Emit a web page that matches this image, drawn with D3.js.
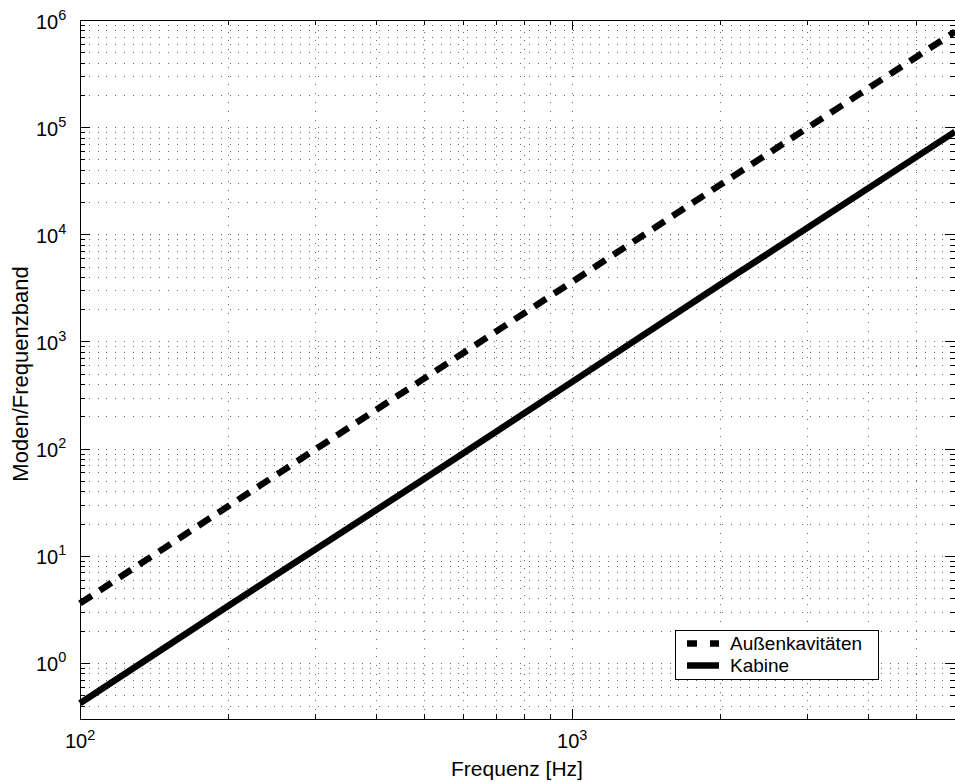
<!DOCTYPE html>
<html><head><meta charset="utf-8">
<script src="https://cdn.jsdelivr.net/npm/d3@7"></script>
<style>body{margin:0;background:#fff}svg{display:block}text{font-family:"Liberation Sans",Arial,sans-serif;fill:#000}</style>
</head><body><svg id="c" width="955" height="782"></svg>
<script>
const freqs = [100, 200, 500, 1000, 2000, 5000, 6000];
const kabine = [0.42, 3.4, 52, 420, 3400, 52500, 90700];
const aussen = [3.6, 29, 450, 3600, 29000, 450000, 778000];
const seriesNames = ["Außenkavitäten", "Kabine"];
const xTickExps = [2, 3];
const yTickExps = [0, 1, 2, 3, 4, 5, 6];
const xLabel = "Frequenz [Hz]";
const yLabel = "Moden/Frequenzband";

const svg = d3.select("#c");
const L = 80, R = 955, T = 20, B = 719;
const x = d3.scaleLog().domain([100, 6000]).range([L, R]);
const y = d3.scaleLog().domain([0.3, 1e6]).range([B, T]);

function gridVals(scale) {
  const [a, b] = scale.domain();
  const out = [];
  for (let e = Math.floor(Math.log10(a)); e <= Math.ceil(Math.log10(b)); e++) {
    for (let k = 1; k <= 9; k++) {
      const v = k * Math.pow(10, e);
      if (v >= a * 0.9999 && v <= b * 1.0001) out.push(v);
    }
  }
  return out;
}
const xg = gridVals(x), yg = gridVals(y);
const isMajor = v => Math.abs(Math.log10(v) - Math.round(Math.log10(v))) < 1e-9;
const px = v => Math.round(v) + 0.5;

const grid = svg.append("g").attr("stroke", "#6a6a6a").attr("stroke-width", 1)
  .attr("stroke-dasharray", "1,7.8").attr("shape-rendering", "crispEdges");
grid.selectAll(".gx").data(xg.filter(v => x(v) > L + 1 && x(v) < R - 1)).join("line")
  .attr("x1", d => px(x(d))).attr("x2", d => px(x(d))).attr("y1", B).attr("y2", T);
grid.selectAll(".gy").data(yg.filter(v => y(v) < B - 1 && y(v) > T + 1)).join("line")
  .attr("y1", d => px(y(d))).attr("y2", d => px(y(d))).attr("x1", L).attr("x2", R);

const tk = svg.append("g").attr("stroke", "#000").attr("stroke-width", 1).attr("shape-rendering", "crispEdges");
xg.forEach(v => {
  const len = isMajor(v) ? 10 : 5, xx = px(x(v));
  tk.append("line").attr("x1", xx).attr("x2", xx).attr("y1", B).attr("y2", B - len);
  tk.append("line").attr("x1", xx).attr("x2", xx).attr("y1", T).attr("y2", T + len);
});
yg.forEach(v => {
  const len = isMajor(v) ? 10 : 5, yy = px(y(v));
  tk.append("line").attr("y1", yy).attr("y2", yy).attr("x1", L).attr("x2", L + len);
  tk.append("line").attr("y1", yy).attr("y2", yy).attr("x1", R).attr("x2", R - len);
});

svg.append("rect").attr("x", L + 0.5).attr("y", T + 0.5).attr("width", R - L).attr("height", B - T)
  .attr("fill", "none").attr("stroke", "#000").attr("stroke-width", 1).attr("shape-rendering", "crispEdges");

const line = d3.line().x((d, i) => x(freqs[i])).y(d => y(d));
const plot = svg.append("g");
plot.append("path").datum(aussen).attr("d", line).attr("fill", "none").attr("stroke", "#000")
  .attr("stroke-width", 6.5).attr("stroke-dasharray", "14,9.6");
plot.append("path").datum(kabine).attr("d", line).attr("fill", "none").attr("stroke", "#000")
  .attr("stroke-width", 6.5);

xTickExps.forEach(e => {
  const t = svg.append("text").attr("x", x(Math.pow(10, e)) - 15).attr("y", 748).attr("font-size", 20);
  t.append("tspan").text("10");
  t.append("tspan").attr("dy", -8.5).attr("font-size", 14.5).text(e);
});
yTickExps.forEach(e => {
  const t = svg.append("text").attr("x", 36).attr("y", y(Math.pow(10, e)) + 8.5).attr("font-size", 20);
  t.append("tspan").text("10");
  t.append("tspan").attr("dy", -9).attr("font-size", 14.5).text(e);
});

svg.append("text").attr("x", 517).attr("y", 776).attr("text-anchor", "middle").attr("font-size", 21).text(xLabel);
svg.append("text").attr("transform", "translate(28,374) rotate(-90)").attr("text-anchor", "middle")
  .attr("font-size", 22).text(yLabel);

const lg = svg.append("g");
lg.append("rect").attr("x", 675.5).attr("y", 630.5).attr("width", 203).attr("height", 49)
  .attr("fill", "#fff").attr("stroke", "#000").attr("stroke-width", 1);
const ly = [643.5, 665.5];
lg.append("line").attr("x1", 687).attr("x2", 719).attr("y1", ly[0]).attr("y2", ly[0])
  .attr("stroke", "#000").attr("stroke-width", 6.5).attr("stroke-dasharray", "10,13");
lg.append("line").attr("x1", 687).attr("x2", 719).attr("y1", ly[1]).attr("y2", ly[1])
  .attr("stroke", "#000").attr("stroke-width", 6.5);
seriesNames.forEach((n, i) => {
  lg.append("text").attr("x", 730).attr("y", ly[i] + 6.5).attr("font-size", 19).text(n);
});
</script></body></html>
